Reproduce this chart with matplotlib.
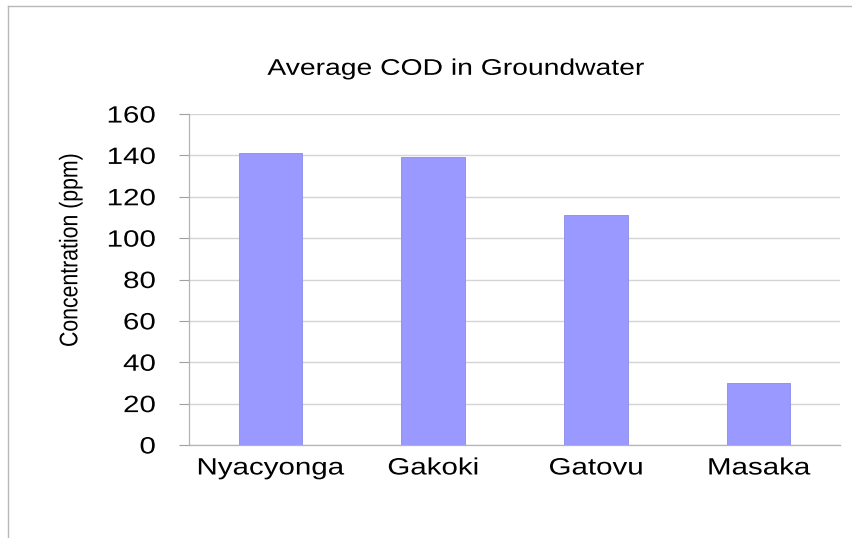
import matplotlib
matplotlib.use("Agg")
import matplotlib.pyplot as plt
from matplotlib.lines import Line2D
from matplotlib.patheffects import AbstractPathEffect
from matplotlib.transforms import Affine2D

plt.rcParams['font.family'] = ['Liberation Sans', 'DejaVu Sans']

sites = ["Nyacyonga", "Gakoki", "Gatovu", "Masaka"]
cod_ppm = [141, 139, 111, 30]
y_ticks = [0, 20, 40, 60, 80, 100, 120, 140, 160]


class WideText(AbstractPathEffect):
    """Stretch drawn text horizontally around an anchor (left/center/right)."""

    def __init__(self, sx=1.25, anchor="center"):
        super().__init__()
        self.sx = sx
        self.anchor = anchor

    def draw_path(self, renderer, gc, tpath, affine, rgbFace=None):
        xs = affine.transform(tpath.vertices)[:, 0]
        if self.anchor == "right":
            cx = xs.max()
        elif self.anchor == "left":
            cx = xs.min()
        else:
            cx = 0.5 * (xs.min() + xs.max())
        wide = affine + Affine2D().translate(-cx, 0).scale(self.sx, 1).translate(cx, 0)
        renderer.draw_path(gc, tpath, wide, rgbFace)


fig = plt.figure(figsize=(8.52, 5.38), dpi=100)
ax = fig.add_axes((0.2218, 0.1729, 0.986 - 0.2218, 0.788 - 0.1729))

x = range(len(sites))
ax.bar(x, cod_ppm, width=0.39, color="#9999FF", edgecolor="#8a8ae8",
       linewidth=0.6, zorder=3)

ax.set_xlim(-0.5, len(sites) - 0.5)
ax.set_ylim(0, 160)
ax.set_yticks(y_ticks)
ax.set_xticks(list(x))
ax.set_xticklabels(sites, fontsize=17)
ax.tick_params(axis="x", length=0, pad=9)
ax.tick_params(axis="y", labelsize=17, length=7, width=0.8, color="#a0a0a0", pad=17)

for lbl in ax.get_xticklabels():
    lbl.set_path_effects([WideText(1.25, "center")])
for lbl in ax.get_yticklabels():
    lbl.set_path_effects([WideText(1.25, "right")])

ax.yaxis.grid(True, color="#d4d4d4", linewidth=1.0, zorder=0)
ax.set_axisbelow(True)
for side in ("top", "right"):
    ax.spines[side].set_visible(False)
for side in ("left", "bottom"):
    ax.spines[side].set_color("#b4b4b4")
    ax.spines[side].set_linewidth(0.9)

ylab = ax.set_ylabel("Concentration (ppm)", fontsize=15.3)
ax.yaxis.set_label_coords(-0.167, 0.589)
ylab.set_path_effects([WideText(1.2, "center")])

title = fig.text(0.535, 0.873, "Average COD in Groundwater", fontsize=16.3,
                 ha="center", va="center")
title.set_path_effects([WideText(1.25, "center")])

# thin frame on the top and left edges of the slide
fig.add_artist(Line2D([0.0095, 0.0095], [0.0, 0.989], color="#b8b8b8", lw=1.0))
fig.add_artist(Line2D([0.0095, 1.0], [0.989, 0.989], color="#b8b8b8", lw=1.0))

fig.savefig("out.png", dpi=100)
